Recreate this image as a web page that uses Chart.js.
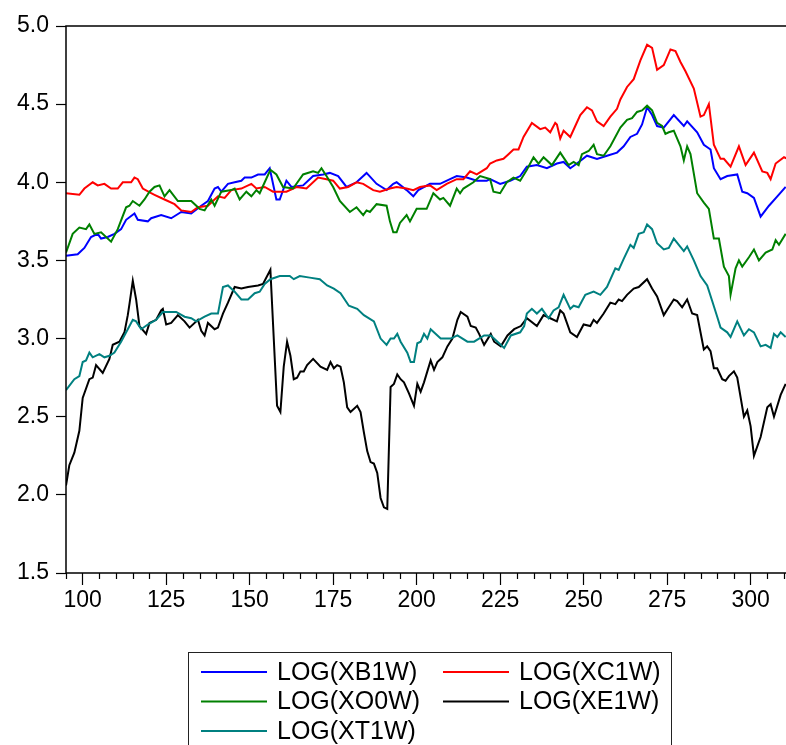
<!DOCTYPE html>
<html>
<head>
<meta charset="utf-8">
<script src="https://cdn.jsdelivr.net/npm/chart.js@4.4.0/dist/chart.umd.min.js"></script>
<style>
  html, body { margin: 0; padding: 0; background: #ffffff; }
  #wrap { width: 786px; height: 745px; position: relative; }
</style>
</head>
<body>
<div id="wrap"><canvas id="c" width="786" height="745"></canvas></div>
<script>
// Observation range and tick labels
const xRange = [95, 310.6];
const xMajorTicks = [100, 125, 150, 175, 200, 225, 250, 275, 300];
const xMinorStep = 5;
const yTicks = [1.5, 2.0, 2.5, 3.0, 3.5, 4.0, 4.5, 5.0];

// Series names (legend order)
const seriesNames = ['LOG(XB1W)', 'LOG(XC1W)', 'LOG(XO0W)', 'LOG(XE1W)', 'LOG(XT1W)'];
const seriesColors = ['#0000ff', '#ff0000', '#008000', '#000000', '#008080'];

// [observation, log value]
const xb1w = [[95,3.53],[98.5,3.54],[100.5,3.58],[102.5,3.65],[104.5,3.67],[105.5,3.64],[107.5,3.65],[109.5,3.67],[111.5,3.70],[113,3.76],[115.5,3.80],[116.5,3.76],[119.5,3.75],[120.5,3.77],[123.5,3.79],[126.5,3.77],[129.5,3.81],[132.5,3.80],[135.5,3.85],[137.5,3.88],[139.5,3.96],[140.5,3.97],[141.5,3.94],[143.5,3.99],[145.5,4.00],[147.5,4.01],[148.5,4.03],[150.5,4.03],[152.5,4.05],[154.5,4.05],[156,4.09],[158,3.89],[159,3.89],[161,4.01],[162.5,3.97],[166,3.98],[169,4.04],[172,4.05],[174,4.06],[176.5,4.04],[179,3.97],[182,4.00],[185,4.06],[188,3.99],[191,3.95],[193,3.99],[194,4.00],[197,3.95],[199,3.91],[200.5,3.95],[204,3.99],[207,3.99],[210,4.02],[212,4.04],[215,4.03],[218,4.01],[221,4.01],[222,4.02],[225,3.99],[228,4.01],[231,4.04],[233,4.10],[236,4.11],[239,4.09],[242,4.12],[244,4.13],[246,4.09],[248,4.12],[251,4.17],[254,4.15],[257,4.17],[260,4.19],[262,4.23],[264,4.29],[266,4.31],[267.5,4.37],[269,4.48],[270.5,4.43],[272,4.36],[274,4.35],[277,4.43],[280,4.36],[281,4.39],[284,4.32],[286,4.24],[288,4.21],[289,4.09],[291,4.02],[293,4.04],[296,4.05],[297.5,3.94],[299,3.93],[301,3.90],[303,3.78],[305.5,3.85],[308,3.91],[310.5,3.97]];

const xc1w = [[95,3.93],[99,3.92],[100.5,3.96],[103,4.00],[104.5,3.98],[106.5,3.99],[108.5,3.96],[110.5,3.96],[112,4.00],[114.5,4.00],[115.5,4.03],[116.5,4.02],[118,3.96],[120.5,3.93],[121.5,3.92],[124.5,3.89],[127.5,3.86],[129.5,3.82],[132.5,3.81],[134.5,3.84],[137.5,3.85],[140.5,3.91],[142.5,3.90],[144.5,3.95],[147.5,3.96],[150.5,3.99],[152,3.96],[154.5,3.97],[157,3.94],[159,3.94],[161,3.94],[164,3.97],[167,3.96],[170.5,4.03],[173,4.02],[175,4.01],[177,3.96],[179.5,3.97],[182,4.00],[184,3.99],[187,3.95],[189,3.94],[192,3.96],[194,3.97],[197,3.96],[199,3.95],[201,3.97],[204,3.98],[206,3.95],[209,3.99],[212,4.02],[214,4.02],[216,4.07],[218,4.05],[221,4.09],[222,4.12],[224,4.14],[226,4.15],[227.5,4.18],[229,4.21],[230.5,4.21],[232,4.29],[234.5,4.38],[237,4.34],[238.5,4.35],[240,4.32],[241.5,4.38],[242,4.37],[243,4.28],[244,4.33],[246,4.29],[247.5,4.36],[249,4.43],[251,4.48],[252.5,4.46],[254,4.39],[256,4.36],[258,4.42],[260,4.47],[261,4.53],[263,4.61],[265,4.66],[267,4.78],[269,4.88],[270.5,4.86],[272,4.72],[274,4.75],[276,4.85],[277.5,4.84],[279,4.77],[280.5,4.71],[283,4.60],[285,4.42],[286,4.43],[287.5,4.50],[289,4.24],[291,4.15],[292,4.15],[294,4.10],[296.5,4.23],[298.5,4.11],[301,4.19],[303.5,4.07],[305,4.06],[306,4.02],[307.5,4.12],[310,4.16],[311,4.15]];

const xo0w = [[95,3.55],[97,3.67],[99,3.71],[101,3.70],[102,3.73],[103.5,3.67],[105.5,3.68],[108.5,3.62],[110.5,3.70],[113,3.84],[114,3.85],[115,3.88],[117,3.85],[118.5,3.89],[120,3.94],[121.5,3.97],[123,3.98],[124.5,3.91],[126,3.95],[128.5,3.88],[132.5,3.88],[135,3.83],[136.5,3.82],[138.5,3.89],[139.5,3.85],[141.5,3.94],[144.5,3.95],[145.5,3.96],[147,3.89],[149,3.94],[150.5,3.91],[152,3.95],[153,3.93],[154.5,4.00],[156.2,4.08],[158,4.05],[160,3.97],[163,3.96],[166,4.05],[169,4.07],[170.5,4.06],[171.5,4.09],[173,4.04],[175,3.97],[177,3.88],[180,3.81],[182,3.84],[184,3.79],[185,3.82],[186,3.81],[188,3.86],[191,3.85],[192,3.75],[193,3.68],[194,3.68],[195,3.74],[197,3.79],[198,3.75],[200,3.83],[203,3.83],[205,3.93],[207,3.89],[208,3.90],[210,3.85],[212,3.96],[213,3.93],[214,3.96],[217,4.00],[219,4.04],[222,4.02],[223,3.94],[225,3.93],[227,4.00],[229,4.03],[231,4.01],[233,4.08],[235,4.16],[236.5,4.12],[238,4.16],[240.5,4.11],[243,4.19],[245.5,4.11],[247,4.13],[248.5,4.11],[249.5,4.18],[251.5,4.20],[253,4.24],[254,4.18],[256,4.17],[258,4.23],[261,4.35],[263,4.40],[264.5,4.41],[266,4.45],[267.5,4.46],[269,4.49],[270.5,4.46],[272,4.38],[273.5,4.36],[274.5,4.31],[275.5,4.32],[277,4.33],[279,4.23],[280,4.14],[281,4.23],[282,4.18],[284,3.93],[286,3.87],[287.5,3.83],[289,3.64],[290.5,3.64],[292,3.46],[293.5,3.40],[294,3.28],[295.5,3.45],[296.5,3.50],[297.5,3.46],[299.5,3.52],[301,3.57],[302.5,3.50],[304.5,3.55],[306.5,3.57],[307.5,3.63],[308.5,3.60],[310.5,3.67]];

const xe1w = [[95,2.06],[96,2.19],[97.5,2.27],[99,2.41],[100,2.62],[102,2.74],[103,2.75],[104,2.83],[106,2.78],[108,2.87],[109,2.96],[111,2.98],[112.5,3.04],[113.5,3.15],[114,3.22],[115,3.37],[116,3.25],[117,3.08],[119,3.03],[120,3.10],[122,3.12],[123.5,3.18],[124,3.19],[125,3.09],[126.5,3.10],[128.5,3.15],[130.5,3.11],[132,3.07],[134.5,3.12],[135.5,3.05],[136.5,3.02],[137.5,3.10],[139.5,3.06],[140.5,3.07],[142,3.16],[143.5,3.23],[145.5,3.33],[147.5,3.32],[149.5,3.33],[152.5,3.34],[154,3.35],[156.2,3.44],[158.2,2.57],[159.2,2.53],[160.2,2.82],[161.2,2.98],[162.2,2.89],[163.2,2.74],[164.2,2.75],[165.2,2.79],[166.2,2.79],[167.2,2.83],[169,2.87],[171.2,2.82],[173.2,2.80],[174.2,2.85],[175.2,2.81],[176.2,2.83],[177.2,2.82],[178.2,2.72],[179.2,2.56],[180.2,2.53],[182.2,2.57],[183.2,2.53],[184.2,2.40],[185.2,2.28],[186.2,2.21],[187.2,2.20],[188.2,2.14],[189.2,1.98],[190.2,1.92],[191.2,1.91],[192.2,2.69],[193.2,2.71],[194.2,2.77],[195.2,2.74],[196.2,2.72],[197.7,2.65],[199.2,2.57],[200.2,2.71],[201.2,2.66],[202.2,2.72],[203.2,2.79],[204.2,2.86],[205.2,2.80],[206.2,2.85],[207.7,2.88],[209.2,2.95],[210.7,3.00],[212.2,3.12],[213.2,3.17],[215.2,3.14],[216.2,3.08],[217.7,3.07],[218.7,3.03],[220.2,2.96],[222.2,3.03],[223.2,2.98],[225.2,2.95],[227.2,3.02],[229.2,3.06],[231.2,3.08],[233,3.13],[236,3.08],[238,3.15],[240,3.13],[242,3.11],[243,3.18],[244,3.16],[246,3.04],[248,3.01],[250,3.09],[252,3.08],[253,3.12],[254,3.10],[256,3.16],[258,3.23],[259.5,3.22],[260.5,3.25],[261.5,3.24],[263,3.28],[265,3.32],[266.5,3.33],[269,3.38],[270.5,3.32],[272,3.27],[274,3.15],[275.5,3.20],[277,3.25],[278,3.24],[279.5,3.20],[281,3.25],[282.5,3.16],[284,3.15],[286,2.93],[287,2.95],[288,2.92],[289,2.81],[290,2.81],[291.5,2.74],[292.5,2.73],[293.5,2.76],[295,2.79],[296,2.75],[298,2.50],[299,2.54],[300,2.44],[301,2.25],[303,2.37],[305,2.56],[306,2.58],[307,2.50],[309,2.64],[310.5,2.71]];

const xt1w = [[95,2.67],[97.5,2.74],[99,2.76],[100,2.85],[101,2.86],[102,2.91],[103,2.88],[105,2.90],[106.5,2.88],[108,2.89],[109.5,2.91],[111.5,2.98],[113.5,3.06],[115,3.12],[116,3.11],[117.5,3.06],[119.5,3.09],[122,3.12],[124,3.17],[125.5,3.17],[128,3.17],[130.5,3.14],[132.5,3.13],[134,3.11],[136.5,3.14],[138.5,3.16],[140.5,3.16],[142,3.33],[143.5,3.34],[145.5,3.30],[147.5,3.25],[149.5,3.25],[151.5,3.29],[153,3.30],[154.5,3.35],[156.2,3.38],[159,3.40],[162,3.40],[163.2,3.38],[165,3.40],[168,3.39],[171,3.38],[173.2,3.34],[175.2,3.32],[177.2,3.29],[179.7,3.21],[182.2,3.19],[184.2,3.15],[187.2,3.11],[189.2,3.00],[191,2.96],[192.2,3.00],[193.2,3.00],[194.2,3.03],[195.2,2.98],[197.2,2.91],[198.2,2.85],[199.2,2.85],[200.2,2.97],[201.2,2.98],[202.2,3.03],[203.2,3.00],[204.2,3.06],[207.2,3.00],[210.2,3.00],[212.2,3.02],[215.2,2.98],[217.2,2.98],[220.2,3.02],[222.2,3.02],[224.2,2.98],[226.2,2.94],[228.2,3.02],[231,3.04],[232.2,3.08],[233,3.16],[234.5,3.19],[236,3.16],[237.5,3.19],[239.5,3.13],[241,3.18],[242.5,3.20],[244,3.28],[246,3.19],[247,3.21],[248.5,3.20],[250.5,3.28],[253,3.30],[255,3.28],[257,3.33],[259.5,3.45],[260.5,3.44],[262,3.51],[264,3.60],[265,3.58],[266.5,3.67],[268,3.68],[269,3.73],[270.5,3.70],[272,3.61],[274,3.57],[275.5,3.58],[277,3.64],[278.5,3.60],[280,3.56],[281,3.59],[283,3.50],[285,3.40],[287,3.34],[288.5,3.24],[290,3.14],[291,3.07],[293,3.04],[294,3.01],[296,3.11],[298,3.02],[299.5,3.06],[301,3.04],[303,2.95],[304.5,2.96],[306,2.94],[307,3.03],[308,3.01],[309,3.04],[310.5,3.01]];

const seriesData = [xb1w, xc1w, xo0w, xe1w, xt1w];

const AXIS_FONT = { family: '"Liberation Sans", Arial, sans-serif', size: 23 };

// Plot frame (left, top, bottom) and minor x ticks
const framePlugin = {
  id: 'frame',
  afterDraw(chart) {
    const { ctx, chartArea: a, scales } = chart;
    ctx.save();
    ctx.strokeStyle = '#000';
    ctx.lineWidth = 1.5;
    ctx.beginPath();
    ctx.moveTo(a.right, a.top);
    ctx.lineTo(a.left, a.top);
    ctx.lineTo(a.left, a.bottom);
    ctx.lineTo(a.right, a.bottom);
    ctx.stroke();
    ctx.lineWidth = 1.2;
    ctx.beginPath();
    for (let v = xRange[0]; v <= xRange[1]; v += xMinorStep) {
      if (xMajorTicks.includes(v)) continue;
      const px = Math.round(scales.x.getPixelForValue(v)) + 0.5;
      ctx.moveTo(px, a.bottom);
      ctx.lineTo(px, a.bottom + 6);
    }
    ctx.stroke();
    ctx.restore();
  }
};

// Boxed two-column legend below the plot
const legendPlugin = {
  id: 'boxLegend',
  afterDraw(chart) {
    const { ctx } = chart;
    const box = { left: 188, top: 652, right: 671, bottom: 760 };
    ctx.save();
    ctx.strokeStyle = '#222';
    ctx.lineWidth = 1;
    ctx.strokeRect(box.left + 0.5, box.top + 0.5, box.right - box.left, box.bottom - box.top);
    const cols = [201, 443];
    const rows = [672, 701.5, 731];
    ctx.font = '25px "Liberation Sans", Arial, sans-serif';
    ctx.textBaseline = 'middle';
    ctx.fillStyle = '#000';
    chart.data.datasets.forEach((ds, i) => {
      const cx = cols[i % 2];
      const cy = rows[Math.floor(i / 2)];
      ctx.strokeStyle = ds.borderColor;
      ctx.lineWidth = 2;
      ctx.beginPath();
      ctx.moveTo(cx, cy);
      ctx.lineTo(cx + 66, cy);
      ctx.stroke();
      ctx.fillText(ds.label, cx + 76, cy + 1);
    });
    ctx.restore();
  }
};

new Chart(document.getElementById('c'), {
  type: 'line',
  data: {
    datasets: seriesData.map((pts, i) => ({
      label: seriesNames[i],
      data: pts.map(p => ({ x: p[0], y: p[1] })),
      borderColor: seriesColors[i],
      backgroundColor: seriesColors[i],
      borderWidth: 2,
      pointRadius: 0,
      tension: 0,
      fill: false,
      order: seriesData.length - i
    }))
  },
  options: {
    responsive: false,
    animation: false,
    devicePixelRatio: 1,
    layout: { padding: { left: 0, right: 0, top: 26, bottom: 132 } },
    plugins: { legend: { display: false }, tooltip: { enabled: false } },
    scales: {
      x: {
        type: 'linear',
        min: xRange[0],
        max: xRange[1],
        afterBuildTicks: s => { s.ticks = xMajorTicks.map(v => ({ value: v })); },
        afterFit: s => { s.height = 40; },
        border: { display: false },
        grid: { drawOnChartArea: false, drawTicks: true, tickLength: 12, tickColor: '#000', tickWidth: 1.2 },
        ticks: { color: '#000', font: AXIS_FONT, padding: 2, maxRotation: 0, autoSkip: false, callback: v => String(v) }
      },
      y: {
        min: 1.5,
        max: 5.0,
        afterBuildTicks: s => { s.ticks = yTicks.map(v => ({ value: v })); },
        afterFit: s => { s.width = 66; },
        border: { display: false },
        grid: { drawOnChartArea: false, drawTicks: true, tickLength: 10, tickColor: '#000', tickWidth: 1.2 },
        ticks: { color: '#000', font: AXIS_FONT, padding: 7, callback: v => v.toFixed(1) }
      }
    }
  },
  plugins: [framePlugin, legendPlugin]
});
</script>
</body>
</html>
